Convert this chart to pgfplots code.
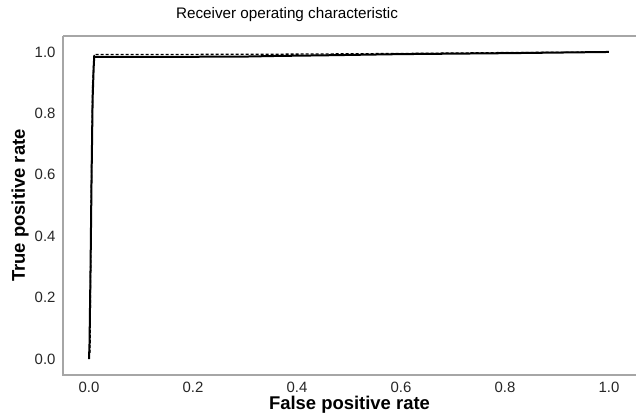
\documentclass[border=0pt]{standalone}
\usepackage{pgfplots}
\pgfplotsset{compat=1.18}
\usepackage{fontspec}
\setmainfont{Liberation Sans}
\begin{document}
\begin{tikzpicture}[x=1bp,y=1bp]
\begin{axis}[
  name=ax,
  scale only axis,
  width=573bp, height=339bp,
  xmin=-0.05, xmax=1.052, ymin=-0.052, ymax=1.052,
  axis line style={draw=none},
  major tick length=0pt,
  xtick={0,0.2,0.4,0.6,0.8,1.0},
  ytick={0,0.2,0.4,0.6,0.8,1.0},
  xticklabel style={/pgf/number format/fixed,/pgf/number format/fixed zerofill,/pgf/number format/precision=1, anchor=center, yshift=-12bp},
  yticklabel style={/pgf/number format/fixed,/pgf/number format/fixed zerofill,/pgf/number format/precision=1, anchor=east, xshift=-4bp},
  /pgf/number format/assume math mode=true,
  tick label style={font=\fontsize{15}{17}\selectfont, text=black!85},
  xlabel={False positive rate},
  ylabel={True positive rate},
  label style={font=\fontsize{18.5}{21}\selectfont\bfseries},
  xlabel style={at={(rel axis cs:0.5,0)}, anchor=center, yshift=-30bp},
  ylabel style={at={(rel axis cs:0,0.5)}, anchor=center, yshift=43bp},
  title={Receiver operating characteristic},
  title style={font=\fontsize{15.3}{17}\selectfont, at={(rel axis cs:0.391,1)}, anchor=center, yshift=15bp},
  clip=false,
]
\draw[gray!70, line width=1.2bp] (rel axis cs:0,1) -- (rel axis cs:0,0) -- (rel axis cs:1,0);
\draw[gray!70, line width=1.2bp] (rel axis cs:0,1) -- (rel axis cs:1,1);
\addplot[black, line width=1.3bp, dash pattern=on 3bp off 2bp] coordinates {
(0.002,0.02) (0.004,0.5) (0.007,0.9) (0.01,0.992) (0.2,0.992) (0.4,0.993) (0.6,0.995) (0.8,0.998) (1.0,1.0)
};
\addplot[black, line width=2bp] coordinates {
(0.0,0.0) (0.001,0.05) (0.003,0.3) (0.005,0.6) (0.007,0.85) (0.009,0.95) (0.01,0.984)
(0.15,0.984) (0.3,0.985) (0.36,0.987) (0.45,0.989) (0.6,0.993) (0.8,0.996) (0.9,0.998) (1.0,1.0)
};
\end{axis}
\pgfresetboundingbox
\path ([shift={(-63bp,-39bp)}]ax.south west) rectangle ([shift={(0bp,36bp)}]ax.north east);
\end{tikzpicture}
\end{document}
